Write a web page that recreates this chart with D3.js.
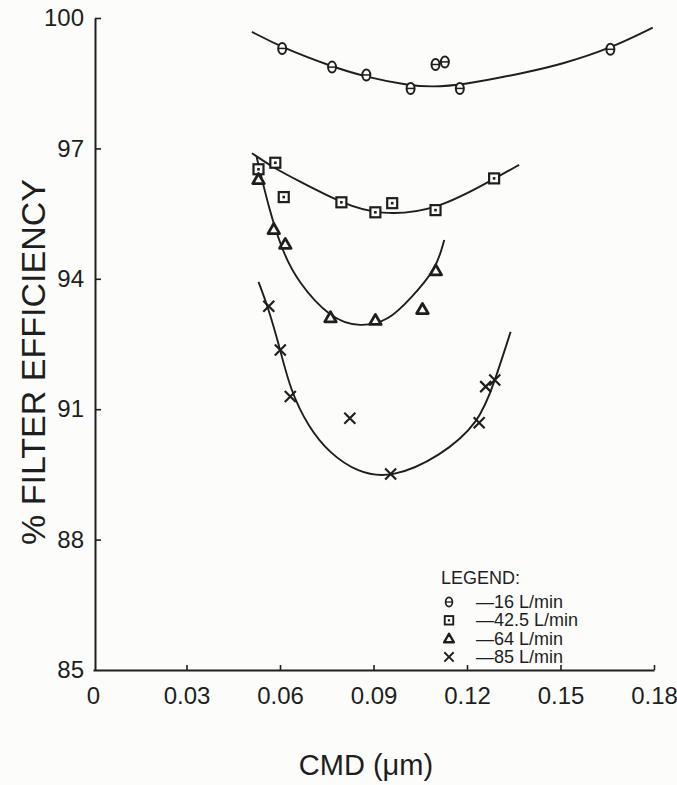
<!DOCTYPE html>
<html><head><meta charset="utf-8">
<script src="https://cdn.jsdelivr.net/npm/d3@7/dist/d3.min.js"></script>
<style>
html,body{margin:0;padding:0;background:#fcfcfa;}
svg{display:block;}
text{font-family:"Liberation Sans",Arial,Helvetica,sans-serif;fill:#1e1e1e;}
</style></head>
<body>
<svg id="c" width="677" height="785"></svg>
<script>
// ---- data ----
const xTicks = [0, 0.03, 0.06, 0.09, 0.12, 0.15, 0.18];
const xTickLabels = ["0", "0.03", "0.06", "0.09", "0.12", "0.15", "0.18"];
const yTicks = [85, 88, 91, 94, 97, 100];
const yTickLabels = ["85", "88", "91", "94", "97", "100"];

const seriesNames = ["\u201416 L/min", "\u201442.5 L/min", "\u201464 L/min", "\u201485 L/min"];

// measured points [CMD, efficiency]
const pts16 = [[0.0607,99.30],[0.0767,98.87],[0.0877,98.69],[0.1019,98.38],[0.1177,98.38],[0.1099,98.93],[0.1129,98.99],[0.1660,99.28]];
const pts42 = [[0.0585,96.67],[0.0531,96.52],[0.0612,95.88],[0.0797,95.76],[0.0906,95.53],[0.0960,95.74],[0.1099,95.58],[0.1287,96.31]];
const pts64 = [[0.0531,96.29],[0.0580,95.14],[0.0617,94.80],[0.0762,93.11],[0.0906,93.05],[0.1100,94.19],[0.1057,93.30]];
const pts85 = [[0.0564,93.37],[0.0601,92.36],[0.0633,91.29],[0.0824,90.79],[0.0955,89.51],[0.1239,90.69],[0.1260,91.52],[0.1289,91.67]];

// fitted curves
const fit16 = [[0.051,99.68],[0.0607,99.32],[0.0767,98.88],[0.0877,98.64],[0.1019,98.44],[0.1083,98.42],[0.1177,98.44],[0.1404,98.77],[0.150,98.93],[0.1660,99.30],[0.1796,99.78]];
const fit42 = [[0.051,96.89],[0.058,96.55],[0.0655,96.27],[0.0797,95.74],[0.092,95.46],[0.1099,95.56],[0.1287,96.30],[0.1367,96.62]];
const fit64 = [[0.0525,96.80],[0.0565,95.60],[0.0607,94.65],[0.0655,93.95],[0.0762,93.08],[0.0858,92.88],[0.0950,93.04],[0.1019,93.55],[0.1100,94.20],[0.1127,94.89]];
const fit85 = [[0.0531,93.93],[0.0564,93.30],[0.0601,92.36],[0.0633,91.45],[0.0690,90.60],[0.0760,89.98],[0.0848,89.55],[0.0955,89.40],[0.1116,89.92],[0.1239,90.69],[0.1287,91.60],[0.1340,92.78]];

// ---- drawing ----
const svg = d3.select("#c");
const ink = "#1e1e1e";
const bg = "#fcfcfa";
const x = d3.scaleLinear().domain([0, 0.18]).range([93, 654]);
const y = d3.scaleLinear().domain([85, 100]).range([670, 18]);

const xAxis = d3.axisBottom(x).tickValues(xTicks).tickFormat((d,i)=>xTickLabels[i])
  .tickSize(-5).tickSizeOuter(0).tickPadding(17);
const yAxis = d3.axisLeft(y).tickValues(yTicks).tickFormat((d,i)=>yTickLabels[i])
  .tickSize(-6).tickSizeOuter(0).tickPadding(11);

const gx = svg.append("g").attr("transform","translate(0,670)").call(xAxis);
const gy = svg.append("g").attr("transform","translate(95,0)").call(yAxis);
[gx, gy].forEach(g=>{
  g.select(".domain").attr("stroke", ink).attr("stroke-width", 2);
  g.selectAll(".tick line").attr("stroke", ink).attr("stroke-width", 1.6);
  g.selectAll(".tick text").attr("fill", ink).style("font-size","24px")
    .style("font-family",'"Liberation Sans",Arial,sans-serif');
});
gx.selectAll(".tick").filter(d=>d===0).select("line").remove();
gy.selectAll(".tick").filter(d=>d===85).select("line").remove();

// axis titles
svg.append("text").attr("x", 366).attr("y", 775).attr("text-anchor","middle")
  .style("font-size","29px").text("CMD (\u03bcm)");
svg.append("text").attr("transform","translate(45,362) rotate(-90)").attr("text-anchor","middle")
  .style("font-size","34px").text("% FILTER EFFICIENCY");

// curves
const line = d3.line().x(d=>x(d[0])).y(d=>y(d[1])).curve(d3.curveBasis);
[fit16, fit42, fit64, fit85].forEach(f=>{
  svg.append("path").attr("d", line(f)).attr("fill","none").attr("stroke", ink).attr("stroke-width", 1.9);
});

// markers
function circleMark(g, cx, cy){
  g.append("ellipse").attr("cx",cx).attr("cy",cy).attr("rx",4).attr("ry",5.5)
    .attr("fill",bg).attr("stroke",ink).attr("stroke-width",2);
  g.append("line").attr("x1",cx-4).attr("x2",cx+4).attr("y1",cy).attr("y2",cy)
    .attr("stroke",ink).attr("stroke-width",1.5);
}
function squareMark(g, cx, cy){
  g.append("rect").attr("x",cx-5).attr("y",cy-5).attr("width",10).attr("height",10)
    .attr("fill",bg).attr("stroke",ink).attr("stroke-width",2.2);
  g.append("rect").attr("x",cx-1.3).attr("y",cy-1.3).attr("width",2.6).attr("height",2.6).attr("fill",ink);
}
function triMark(g, cx, cy){
  g.append("path").attr("d", d3.symbol(d3.symbolTriangle, 58)())
    .attr("transform",`translate(${cx},${cy+1})`)
    .attr("fill",bg).attr("stroke",ink).attr("stroke-width",2.8).attr("stroke-linejoin","round");
}
function crossMark(g, cx, cy){
  const s = 5.5;
  g.append("path").attr("d",`M${cx-s},${cy-s}L${cx+s},${cy+s}M${cx-s},${cy+s}L${cx+s},${cy-s}`)
    .attr("stroke",ink).attr("stroke-width",2.2).attr("fill","none");
}
const markFns = [circleMark, squareMark, triMark, crossMark];
const gm = svg.append("g");
[pts16, pts42, pts64, pts85].forEach((p,i)=>{
  p.forEach(d=>markFns[i](gm, x(d[0]), y(d[1])));
});

// legend
const lg = svg.append("g");
lg.append("text").attr("x",441).attr("y",584).style("font-size","18px").text("LEGEND:");
seriesNames.forEach((n,i)=>{
  const yy = 602 + i*18.3;
  const sg = lg.append("g").attr("transform",`translate(449,${yy}) scale(0.85) translate(-449,${-yy})`);
  markFns[i](sg, 449, yy);
  lg.append("text").attr("x",476).attr("y",yy+6).style("font-size","18px").text(n);
});
</script>
</body></html>
